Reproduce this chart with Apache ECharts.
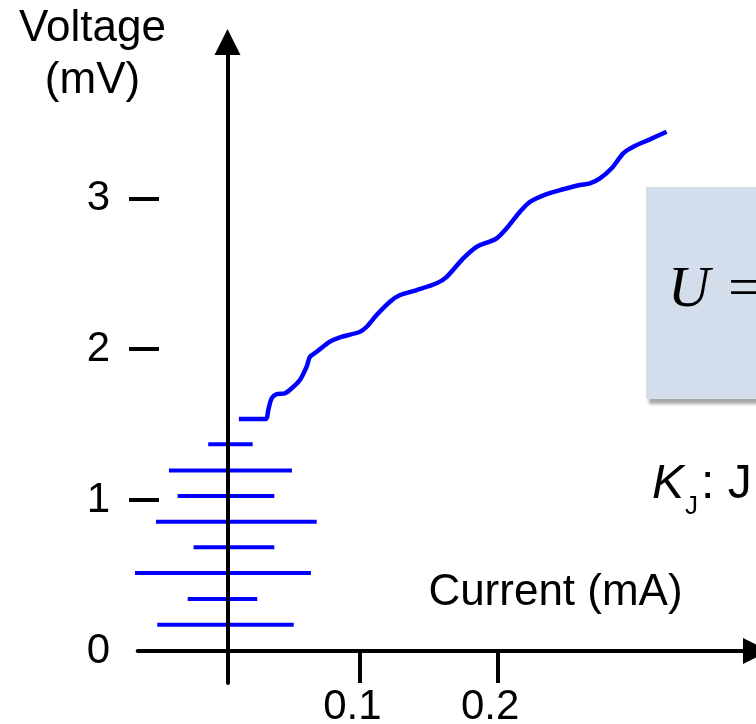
<!DOCTYPE html>
<html>
<head>
<meta charset="utf-8">
<script src="https://cdn.jsdelivr.net/npm/echarts@6/dist/echarts.min.js"></script>
<style>
html,body{margin:0;padding:0;background:#fff;}
#chart{width:756px;height:724px;}
</style>
</head>
<body>
<div id="chart"></div>
<script>
// ---- Data (current in mA, voltage in mV) ----
const curveCurrent = [0.0121,0.0315,0.0334,0.0359,0.0395,0.0455,0.0504,0.0564,0.0613,0.0637,0.0686,0.0782,0.0855,0.1,0.1049,0.1121,0.1218,0.1291,0.1412,0.1557,0.163,0.175,0.1847,0.192,0.1993,0.2065,0.2162,0.2235,0.2356,0.2476,0.2598,0.267,0.2743,0.2828,0.2912,0.2985,0.3106,0.3227];
const curveVoltage = [1.537,1.537,1.597,1.675,1.703,1.708,1.741,1.796,1.884,1.950,1.983,2.050,2.079,2.116,2.149,2.227,2.315,2.359,2.392,2.437,2.480,2.602,2.679,2.706,2.735,2.801,2.911,2.977,3.028,3.060,3.088,3.099,3.132,3.199,3.298,3.342,3.391,3.441];

// Zero-current steps (horizontal segments)
const stepVoltage = [1.370,1.197,1.027,0.857,0.687,0.517,0.345,0.174];
const stepLeft    = [-0.0102,-0.0387,-0.0324,-0.0481,-0.0208,-0.0649,-0.0251,-0.0472];
const stepRight   = [0.0221,0.0506,0.0378,0.0686,0.0378,0.0644,0.0254,0.0519];

const xTickValues = [0.1, 0.2];
const xTickLabels = ['0.1', '0.2'];
const yLabelValues = [0, 1, 2, 3];
const yDashValues = [1, 2, 3];

const X_MIN = -0.0614, X_MAX = 0.3876;
const Y_MIN = -0.212, Y_MAX = 4.036;

const BLUE = '#0000FF';
const FONT = '"Liberation Sans", Arial, sans-serif';

const series = [];
stepVoltage.forEach((v, i) => {
  series.push({
    type: 'line',
    data: [[stepLeft[i], v], [stepRight[i], v]],
    showSymbol: false,
    symbol: 'none',
    clip: false,
    z: 2,
    lineStyle: { color: BLUE, width: 4 },
    silent: true
  });
});
series.push({
  type: 'line',
  data: curveCurrent.map((c, i) => [c, curveVoltage[i]]),
  showSymbol: false,
  symbol: 'none',
  smooth: 0.3,
  clip: false,
  z: 2,
  lineStyle: { color: BLUE, width: 4.5, cap: 'butt', join: 'round' },
  silent: true
});

const chart = echarts.init(document.getElementById('chart'), null, { renderer: 'canvas' });
chart.setOption({
  animation: false,
  backgroundColor: '#ffffff',
  grid: { left: 137.7, right: 0, top: 42, bottom: 41, containLabel: false, outerBoundsMode: 'none' },
  xAxis: {
    type: 'value',
    min: X_MIN, max: X_MAX,
    z: 10,
    axisLine: {
      onZero: true,
      symbol: ['none', 'triangle'],
      symbolSize: [26, 26],
      lineStyle: { color: '#000', width: 4 }
    },
    axisTick: {
      show: true,
      customValues: xTickValues,
      length: 32,
      lineStyle: { color: '#000', width: 4 }
    },
    axisLabel: {
      customValues: xTickValues,
      formatter: (v) => { const i = xTickValues.findIndex(t => Math.abs(t - v) < 1e-9); return i >= 0 ? xTickLabels[i] : ''; },
      margin: 3,
      fontSize: 42,
      fontFamily: FONT,
      color: '#000',
      padding: [0, 15, 0, 0],
      hideOverlap: false
    },
    splitLine: { show: false }
  },
  yAxis: [
    {
      type: 'value',
      min: Y_MIN, max: Y_MAX,
      position: 'left',
      offset: -89.8,
      z: 10,
      axisLine: {
        show: true,
        onZero: false,
        symbol: ['none', 'triangle'],
        symbolSize: [26, 26],
        lineStyle: { color: '#000', width: 4 }
      },
      axisTick: { show: false },
      axisLabel: { show: false },
      splitLine: { show: false }
    },
    {
      type: 'value',
      min: Y_MIN, max: Y_MAX,
      position: 'left',
      offset: -21.3,
      axisLine: { show: false, onZero: false },
      axisTick: {
        show: true,
        customValues: yDashValues,
        length: 30,
        lineStyle: { color: '#000', width: 4 }
      },
      axisLabel: {
        customValues: yLabelValues,
        formatter: (v) => String(Math.round(v)),
        margin: 49,
        fontSize: 42,
        fontFamily: FONT,
        color: '#000',
        padding: [0, 0, 20, 0]
      },
      splitLine: { show: false }
    }
  ],
  graphic: [
    {
      type: 'rect', x: 646, y: 187, z: 1,
      shape: { x: 0, y: 0, width: 130, height: 212 },
      style: { fill: '#D4DDEB', shadowColor: 'rgba(0,0,0,0.35)', shadowOffsetX: 3, shadowOffsetY: 5, shadowBlur: 3 }
    },
    {
      type: 'text', x: 668, y: 291, z: 5,
      style: { text: 'U =', font: 'italic 58px "Liberation Serif", "Times New Roman", serif', fill: '#000', align: 'left', verticalAlign: 'middle', textAlign: 'left', textVerticalAlign: 'middle' }
    },
    {
      type: 'text', x: 92.5, y: 29, z: 5,
      style: { text: 'Voltage', font: '44px ' + FONT, fill: '#000', align: 'center', verticalAlign: 'middle', textAlign: 'center', textVerticalAlign: 'middle' }
    },
    {
      type: 'text', x: 92.5, y: 81, z: 5,
      style: { text: '(mV)', font: '44px ' + FONT, fill: '#000', align: 'center', verticalAlign: 'middle', textAlign: 'center', textVerticalAlign: 'middle' }
    },
    {
      type: 'text', x: 555.5, y: 593, z: 5,
      style: { text: 'Current (mA)', font: '44px ' + FONT, fill: '#000', align: 'center', verticalAlign: 'middle', textAlign: 'center', textVerticalAlign: 'middle' }
    },
    {
      type: 'text', x: 652, y: 485, z: 5,
      style: { text: 'K', font: 'italic 48px ' + FONT, fill: '#000', align: 'left', verticalAlign: 'middle', textAlign: 'left', textVerticalAlign: 'middle' }
    },
    {
      type: 'text', x: 685, y: 506.5, z: 5,
      style: { text: 'J', font: '26px ' + FONT, fill: '#000', align: 'left', verticalAlign: 'middle', textAlign: 'left', textVerticalAlign: 'middle' }
    },
    {
      type: 'text', x: 701, y: 485, z: 5,
      style: { text: ': J', font: '48px ' + FONT, fill: '#000', align: 'left', verticalAlign: 'middle', textAlign: 'left', textVerticalAlign: 'middle' }
    }
  ],
  series: series
});
</script>
</body>
</html>
